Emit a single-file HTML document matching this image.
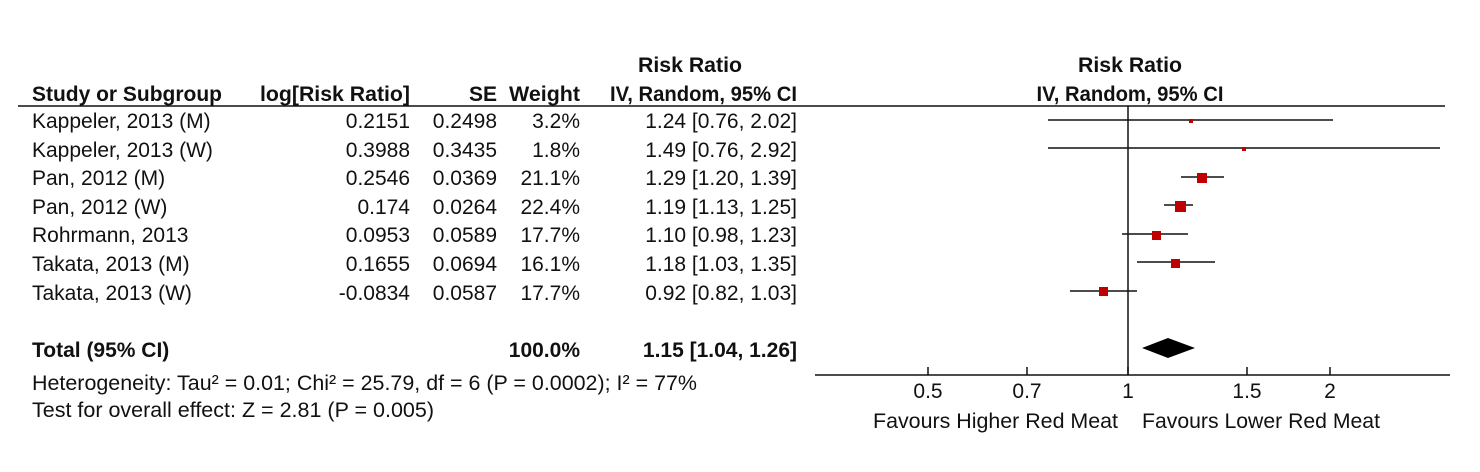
<!DOCTYPE html>
<html><head><meta charset="utf-8"><style>
html,body{margin:0;padding:0;background:#fff;}
svg{display:block;font-family:"Liberation Sans",Arial,sans-serif;font-size:21px;fill:#111;}
.b{font-weight:bold;}
</style></head><body>
<svg width="1480" height="472" viewBox="0 0 1480 472" xmlns="http://www.w3.org/2000/svg">
<g fill="#111">
<text class="b" x="690" y="72" text-anchor="middle" textLength="104" lengthAdjust="spacingAndGlyphs">Risk Ratio</text>
<text class="b" x="32" y="101" textLength="190" lengthAdjust="spacingAndGlyphs">Study or Subgroup</text>
<text class="b" x="410" y="101" text-anchor="end" textLength="150" lengthAdjust="spacingAndGlyphs">log[Risk Ratio]</text>
<text class="b" x="497" y="101" text-anchor="end">SE</text>
<text class="b" x="580" y="101" text-anchor="end" textLength="71" lengthAdjust="spacingAndGlyphs">Weight</text>
<text class="b" x="797" y="101" text-anchor="end" textLength="187" lengthAdjust="spacingAndGlyphs">IV, Random, 95% CI</text>
<text class="b" x="1130" y="72" text-anchor="middle" textLength="104" lengthAdjust="spacingAndGlyphs">Risk Ratio</text>
<text class="b" x="1130" y="101" text-anchor="middle" textLength="187" lengthAdjust="spacingAndGlyphs">IV, Random, 95% CI</text>

<g>
<text x="32" y="128">Kappeler, 2013 (M)</text><text x="410" y="128" text-anchor="end">0.2151</text><text x="497" y="128" text-anchor="end">0.2498</text><text x="580" y="128" text-anchor="end">3.2%</text><text x="797" y="128" text-anchor="end">1.24 [0.76, 2.02]</text>
<text x="32" y="157">Kappeler, 2013 (W)</text><text x="410" y="157" text-anchor="end">0.3988</text><text x="497" y="157" text-anchor="end">0.3435</text><text x="580" y="157" text-anchor="end">1.8%</text><text x="797" y="157" text-anchor="end">1.49 [0.76, 2.92]</text>
<text x="32" y="185">Pan, 2012 (M)</text><text x="410" y="185" text-anchor="end">0.2546</text><text x="497" y="185" text-anchor="end">0.0369</text><text x="580" y="185" text-anchor="end">21.1%</text><text x="797" y="185" text-anchor="end">1.29 [1.20, 1.39]</text>
<text x="32" y="214">Pan, 2012 (W)</text><text x="410" y="214" text-anchor="end">0.174</text><text x="497" y="214" text-anchor="end">0.0264</text><text x="580" y="214" text-anchor="end">22.4%</text><text x="797" y="214" text-anchor="end">1.19 [1.13, 1.25]</text>
<text x="32" y="242">Rohrmann, 2013</text><text x="410" y="242" text-anchor="end">0.0953</text><text x="497" y="242" text-anchor="end">0.0589</text><text x="580" y="242" text-anchor="end">17.7%</text><text x="797" y="242" text-anchor="end">1.10 [0.98, 1.23]</text>
<text x="32" y="271">Takata, 2013 (M)</text><text x="410" y="271" text-anchor="end">0.1655</text><text x="497" y="271" text-anchor="end">0.0694</text><text x="580" y="271" text-anchor="end">16.1%</text><text x="797" y="271" text-anchor="end">1.18 [1.03, 1.35]</text>
<text x="32" y="300">Takata, 2013 (W)</text><text x="410" y="300" text-anchor="end">-0.0834</text><text x="497" y="300" text-anchor="end">0.0587</text><text x="580" y="300" text-anchor="end">17.7%</text><text x="797" y="300" text-anchor="end">0.92 [0.82, 1.03]</text>
</g>
<text class="b" x="32" y="357">Total (95% CI)</text>
<text class="b" x="580" y="357" text-anchor="end">100.0%</text>
<text class="b" x="797" y="357" text-anchor="end">1.15 [1.04, 1.26]</text>
<text x="32" y="390" textLength="665" lengthAdjust="spacingAndGlyphs">Heterogeneity: Tau² = 0.01; Chi² = 25.79, df = 6 (P = 0.0002); I² = 77%</text>
<text x="32" y="417" textLength="402" lengthAdjust="spacingAndGlyphs">Test for overall effect: Z = 2.81 (P = 0.005)</text>

<text x="928" y="398" text-anchor="middle">0.5</text>
<text x="1027" y="398" text-anchor="middle">0.7</text>
<text x="1128" y="398" text-anchor="middle">1</text>
<text x="1247" y="398" text-anchor="middle">1.5</text>
<text x="1330" y="398" text-anchor="middle">2</text>
<text x="1118" y="428" text-anchor="end" textLength="245" lengthAdjust="spacingAndGlyphs">Favours Higher Red Meat</text>
<text x="1142" y="428" textLength="238" lengthAdjust="spacingAndGlyphs">Favours Lower Red Meat</text>
</g>

<g stroke="#111" stroke-width="1.5" fill="none">
<line x1="18" y1="106" x2="1445" y2="106"/>
<line x1="1128" y1="106" x2="1128" y2="375"/>
<line x1="815" y1="375" x2="1450" y2="375"/>
<line x1="928" y1="367" x2="928" y2="375"/>
<line x1="1027" y1="367" x2="1027" y2="375"/>
<line x1="1128" y1="367" x2="1128" y2="375"/>
<line x1="1247" y1="367" x2="1247" y2="375"/>
<line x1="1330" y1="367" x2="1330" y2="375"/>
<line x1="1048" y1="120" x2="1333" y2="120"/>
<line x1="1048" y1="148" x2="1440" y2="148"/>
<line x1="1181" y1="177" x2="1224" y2="177"/>
<line x1="1164" y1="205" x2="1193" y2="205"/>
<line x1="1122" y1="234" x2="1188" y2="234"/>
<line x1="1137" y1="262" x2="1215" y2="262"/>
<line x1="1070" y1="291" x2="1137" y2="291"/>
</g>
<g fill="#c00000">
<rect x="1189" y="119" width="4" height="4"/>
<rect x="1242" y="147" width="4" height="4"/>
<rect x="1197" y="173" width="10" height="10"/>
<rect x="1175" y="201" width="11" height="11"/>
<rect x="1152" y="231" width="9" height="9"/>
<rect x="1171" y="259" width="9" height="9"/>
<rect x="1099" y="287" width="9" height="9"/>
</g>
<polygon points="1142,348 1168,338 1195,348 1168,358" fill="#000"/>
</svg>
</body></html>
